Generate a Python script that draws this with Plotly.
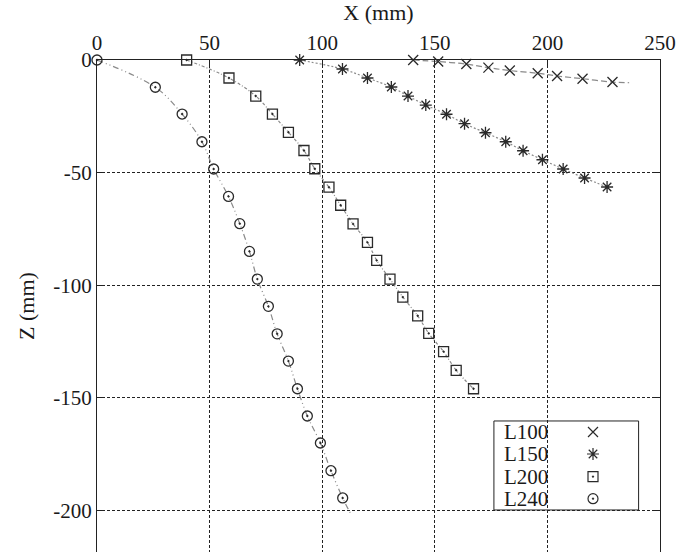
import plotly.graph_objects as go

# ---- data ----
names = ["L100", "L150", "L200", "L240"]

l100_x = [140.4, 151.5, 164.0, 173.8, 183.3, 195.7, 204.3, 215.6, 228.9]
l100_z = [0.0, -0.7, -1.8, -3.4, -4.7, -5.9, -7.1, -8.3, -9.8]
l100_line_x = l100_x + [236.3]
l100_line_z = l100_z + [-10.1]

l150_x = [90.0, 109.0, 120.1, 130.7, 138.1, 146.0, 155.2, 163.2, 172.5,
          181.5, 189.2, 197.8, 207.0, 216.5, 226.5]
l150_z = [0.0, -4.0, -8.0, -12.0, -16.0, -20.0, -24.1, -28.3, -32.3,
          -36.3, -40.3, -44.3, -48.4, -52.4, -56.4]

l200_x = [39.8, 58.6, 70.5, 77.9, 85.0, 91.9, 96.7, 103.0, 108.2, 113.7,
          120.1, 124.2, 130.1, 135.8, 142.4, 147.3, 153.9, 159.5, 167.2]
l200_z = [0.0, -8.0, -16.0, -24.0, -32.1, -40.2, -48.3, -56.5, -64.5, -72.8,
          -81.0, -89.0, -97.3, -105.3, -113.6, -121.4, -129.5, -137.8, -146.0]

l240_x = [0.0, 25.9, 37.8, 46.6, 51.8, 58.4, 63.4, 67.7, 71.2, 76.1, 80.0,
          85.0, 89.0, 93.4, 99.2, 103.9, 109.1]
l240_z = [0.0, -12.1, -24.0, -36.3, -48.4, -60.6, -72.7, -85.0, -97.3,
          -109.4, -121.6, -133.7, -146.0, -158.1, -170.1, -182.4, -194.5]
l240_line_x = l240_x + [112.7]
l240_line_z = l240_z + [-201.6]

x_ticks = [0, 50, 100, 150, 200, 250]
x_tick_text = ["0", "50", "100", "150", "200", "250"]
z_ticks = [0, -50, -100, -150, -200]
z_tick_text = ["0", "-50", "-100", "-150", "-200"]

FONT = "Liberation Serif, Times New Roman, serif"
MARK = "#2a2a2a"
LINE = "#8a8a8a"

series = [
    dict(name="L100", mx=l100_x, mz=l100_z, lx=l100_line_x, lz=l100_line_z,
         dash="6px,3px", symbol="x-thin-open", size=10),
    dict(name="L150", mx=l150_x, mz=l150_z, lx=l150_x, lz=l150_z,
         dash="2px,2px", symbol="asterisk-open", size=10),
    dict(name="L200", mx=l200_x, mz=l200_z, lx=l200_x, lz=l200_z,
         dash="3px,2px,1px,2px", symbol="square-open-dot", size=10),
    dict(name="L240", mx=l240_x, mz=l240_z, lx=l240_line_x, lz=l240_line_z,
         dash="6px,3px,1px,3px,1px,3px", symbol="circle-open-dot", size=10),
]

fig = go.Figure()
for s in series:
    fig.add_trace(go.Scatter(
        x=s["lx"], y=s["lz"], mode="lines",
        line=dict(color=LINE, width=1.2, dash=s["dash"], shape="spline"),
        showlegend=False, hoverinfo="skip", cliponaxis=False))
for s in series:
    fig.add_trace(go.Scatter(
        x=s["mx"], y=s["mz"], mode="markers", name=s["name"],
        marker=dict(symbol=s["symbol"], size=s["size"], color=MARK,
                    line=dict(color=MARK, width=1.3)),
        showlegend=False, cliponaxis=False))

# ---- manual legend (text left, symbol right) ----
leg_rows = [0.2439, 0.1992, 0.1531, 0.1083]
for s, yy in zip(series, leg_rows):
    fig.add_trace(go.Scatter(
        x=[0.881], y=[yy], xaxis="x2", yaxis="y2", mode="markers",
        marker=dict(symbol=s["symbol"], size=s["size"], color=MARK,
                    line=dict(color=MARK, width=1.2)),
        showlegend=False, hoverinfo="skip", cliponaxis=False))
    fig.add_annotation(x=0.7187, y=yy, xref="paper", yref="paper", text=s["name"],
                       showarrow=False, xanchor="left", yanchor="middle",
                       font=dict(family=FONT, size=21, color="#1a1a1a"))

fig.add_shape(type="rect", xref="paper", yref="paper",
              x0=0.705, x1=0.962, y0=0.0854, y1=0.2663,
              line=dict(color="#222", width=1), fillcolor="white", layer="between")

axis_common = dict(showgrid=True, gridcolor="#222", gridwidth=1, griddash="3px,2px",
                   zeroline=False, showline=True, linecolor="#222", linewidth=1.3,
                   ticks="inside", ticklen=5, tickcolor="#222",
                   tickfont=dict(family=FONT, size=21, color="#1a1a1a"))

fig.update_layout(
    width=681, height=552,
    margin=dict(l=97, r=21, t=60, b=0),
    paper_bgcolor="white", plot_bgcolor="white",
    font=dict(family=FONT, color="#1a1a1a"),
    xaxis=dict(range=[0, 250], side="top", tickvals=x_ticks, ticktext=x_tick_text,
               mirror=False,
               title=dict(text="X (mm)", font=dict(family=FONT, size=22), standoff=4),
               **axis_common),
    yaxis=dict(range=[-218.5, 0], tickvals=z_ticks, ticktext=z_tick_text, mirror="ticks",
               title=dict(text="Z (mm)", font=dict(family=FONT, size=22), standoff=12),
               **axis_common),
    xaxis2=dict(overlaying="x", anchor="y2", range=[0, 1], visible=False, fixedrange=True),
    yaxis2=dict(overlaying="y", anchor="x2", range=[0, 1], visible=False, fixedrange=True),
)

fig.write_html("out.html")
